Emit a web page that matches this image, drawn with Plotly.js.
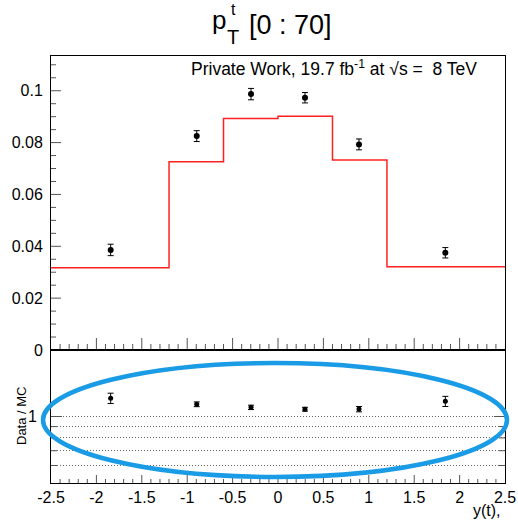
<!DOCTYPE html>
<html>
<head>
<meta charset="utf-8">
<script src="https://cdn.plot.ly/plotly-3.0.1.min.js"></script>
<style>html,body{margin:0;padding:0;background:#fff;}#chart{width:518px;height:521px;}</style>
</head>
<body>
<div id="chart"></div>
<script>
// ---- data ----
const binEdges = [-2.5, -1.2, -0.6, 0, 0.6, 1.2, 2.5];
const mcValues = [0.0317, 0.0726, 0.0893, 0.0902, 0.0733, 0.0321];
const dataX = [-1.843, -0.895, -0.297, 0.297, 0.892, 1.843];
const dataY = [0.0386, 0.0825, 0.0987, 0.0973, 0.0793, 0.0375];
const dataErr = [0.0022, 0.0021, 0.0022, 0.0020, 0.0021, 0.0020];
const ratioY = [1.21, 1.136, 1.10, 1.079, 1.08, 1.172];
const ratioErr = [0.065, 0.028, 0.025, 0.022, 0.03, 0.062];
const xTickVals = [-2.5, -2, -1.5, -1, -0.5, 0, 0.5, 1, 1.5, 2, 2.5];
const xTickText = ['-2.5', '-2', '-1.5', '-1', '-0.5', '0', '0.5', '1', '1.5', '2', '2.5'];
const ratioTickVals = [0.6, 0.7, 0.8, 0.9, 1];
const ratioTickText = ['', '', '', '', '1'];

// ---- geometry helpers (pixel -> paper) ----
const L = 51, R = 505, T = 56, B = 483;
const W = R - L, H = B - T;
const px = x => (x - L) / W;
const py = y => (B - y) / H;
const split = (B - 350) / H;

const FONT = 'Liberation Sans, Arial, Helvetica, sans-serif';
const X_RANGE = [-2.5, 2.5];
const Y_RANGE = [0, 0.1134];
const R_LO = 0.5, R_HI = 2;
const R_RANGE = [Math.log10(R_LO), Math.log10(R_HI)];
const TICK = '#555';
const GRID = '#666';

// tick lengths are given in pixels and converted with each axis' scale
const xPerPx = (X_RANGE[1] - X_RANGE[0]) / W;
const yPerPx = (Y_RANGE[1] - Y_RANGE[0]) / (350 - T);
const decPerPx = (R_RANGE[1] - R_RANGE[0]) / (B - 350);

// ---- tick marks (inward, ROOT style) built as line segments on the axes ----
const tkTop = {x: [], y: []}, tkBot = {x: [], y: []}, tkY = {x: [], y: []}, tkR = {x: [], y: []};
for (let i = -24; i <= 24; i++) {
  const v = i / 10, major = (i % 5 === 0);
  tkTop.x.push(v, v, null); tkTop.y.push(0, (major ? 12 : 6) * yPerPx, null);
  tkBot.x.push(v, v, null); tkBot.y.push(R_LO, R_LO * Math.pow(10, (major ? 8 : 4) * decPerPx), null);
}
for (let k = 1; k <= 22; k++) {
  const v = k * 0.005, len = (k % 4 === 0) ? 10 : 5;
  tkY.x.push(X_RANGE[0], X_RANGE[0] + len * xPerPx, null); tkY.y.push(v, v, null);
}
ratioTickVals.forEach(v => {
  const len = (v === 1) ? 11 : 6;
  tkR.x.push(X_RANGE[0], X_RANGE[0] + len * xPerPx, null); tkR.y.push(v, v, null);
  tkR.x.push(X_RANGE[1], X_RANGE[1] - len * xPerPx, null); tkR.y.push(v, v, null);
});
const tickTrace = (t, xa, ya) => ({x: t.x, y: t.y, type: 'scatter', mode: 'lines', connectgaps: false,
  line: {color: TICK, width: 1}, xaxis: xa, yaxis: ya, hoverinfo: 'skip', cliponaxis: false});

const traces = [
  tickTrace(tkTop, 'x', 'y'),
  tickTrace(tkY, 'x', 'y'),
  tickTrace(tkBot, 'x2', 'y2'),
  tickTrace(tkR, 'x2', 'y2'),
  {
    x: binEdges,
    y: mcValues.concat([mcValues[mcValues.length - 1]]),
    type: 'scatter', mode: 'lines',
    line: {shape: 'hv', color: '#ff2020', width: 1.5},
    xaxis: 'x', yaxis: 'y', hoverinfo: 'skip'
  },
  {
    x: dataX, y: dataY,
    type: 'scatter', mode: 'markers',
    marker: {color: '#000', size: 6, symbol: 'circle'},
    error_y: {type: 'data', array: dataErr, visible: true, color: '#000', thickness: 1, width: 3},
    xaxis: 'x', yaxis: 'y'
  },
  {
    x: dataX, y: ratioY,
    type: 'scatter', mode: 'markers',
    marker: {color: '#000', size: 5, symbol: 'circle'},
    error_y: {type: 'data', array: ratioErr, visible: true, color: '#000', thickness: 1, width: 3},
    xaxis: 'x2', yaxis: 'y2'
  }
];

const tickFont = {family: FONT, size: 16, color: '#000'};

const layout = {
  width: 518, height: 521,
  margin: {l: L, r: 518 - R, t: T, b: 521 - B, pad: 0},
  paper_bgcolor: '#fff', plot_bgcolor: '#fff',
  showlegend: false,
  font: {family: FONT, color: '#000'},
  xaxis: {
    domain: [0, 1], anchor: 'y', range: X_RANGE,
    showline: true, mirror: true, linecolor: '#000',
    showgrid: false, zeroline: false, showticklabels: false, ticks: ''
  },
  yaxis: {
    domain: [split, 1], anchor: 'x', range: Y_RANGE,
    showline: true, mirror: true, linecolor: '#000',
    showgrid: false, zeroline: false, ticks: '',
    tickmode: 'linear', dtick: 0.02, tick0: 0,
    tickfont: tickFont, ticklabelstandoff: 4
  },
  xaxis2: {
    domain: [0, 1], anchor: 'y2', range: X_RANGE,
    showline: true, mirror: true, linecolor: '#000',
    showgrid: false, zeroline: false, ticks: '',
    tickmode: 'array', tickvals: xTickVals, ticktext: xTickText,
    tickfont: tickFont
  },
  yaxis2: {
    domain: [0, split], anchor: 'x2', type: 'log', range: R_RANGE,
    showline: true, mirror: true, linecolor: '#000',
    zeroline: false, ticks: '',
    tickmode: 'array', tickvals: ratioTickVals, ticktext: ratioTickText,
    showgrid: true, gridcolor: GRID, griddash: '1px,2px', gridwidth: 1,
    tickfont: tickFont, ticklabelstandoff: 10
  },
  annotations: [
    {text: 'p', xref: 'paper', yref: 'paper', x: px(219), y: py(19.5), xanchor: 'center', yanchor: 'middle',
     showarrow: false, font: {family: FONT, size: 26, color: '#000'}},
    {text: 't', xref: 'paper', yref: 'paper', x: px(233), y: py(9), xanchor: 'center', yanchor: 'middle',
     showarrow: false, font: {family: FONT, size: 16, color: '#000'}},
    {text: 'T', xref: 'paper', yref: 'paper', x: px(233), y: py(37), xanchor: 'center', yanchor: 'middle',
     showarrow: false, font: {family: FONT, size: 20, color: '#000'}},
    {text: '[0 : 70]', xref: 'paper', yref: 'paper', x: px(247), y: py(24.5), xanchor: 'left', yanchor: 'middle',
     showarrow: false, font: {family: FONT, size: 27, color: '#000'}},
    {text: 'Private Work, 19.7 fb<sup>-1</sup> at √s =  8 TeV', xref: 'paper', yref: 'paper',
     x: px(334), y: py(68), xanchor: 'center', yanchor: 'middle',
     showarrow: false, font: {family: FONT, size: 17.5, color: '#000'}},
    {text: 'Data / MC', xref: 'paper', yref: 'paper', x: px(21), y: py(416), textangle: -90,
     xanchor: 'center', yanchor: 'middle', showarrow: false, font: {family: FONT, size: 13, color: '#000'}},
    {text: 'y(t),', xref: 'paper', yref: 'paper', x: px(503), y: py(510), xanchor: 'right', yanchor: 'middle',
     showarrow: false, font: {family: FONT, size: 16, color: '#000'}}
  ],
  shapes: [
    {type: 'circle', xref: 'paper', yref: 'paper', x0: px(43), x1: px(507), y0: py(477), y1: py(363),
     line: {color: '#1a9be6', width: 4.5}, layer: 'above'}
  ]
};

Plotly.newPlot('chart', traces, layout, {displayModeBar: false, staticPlot: true});
</script>
</body>
</html>
